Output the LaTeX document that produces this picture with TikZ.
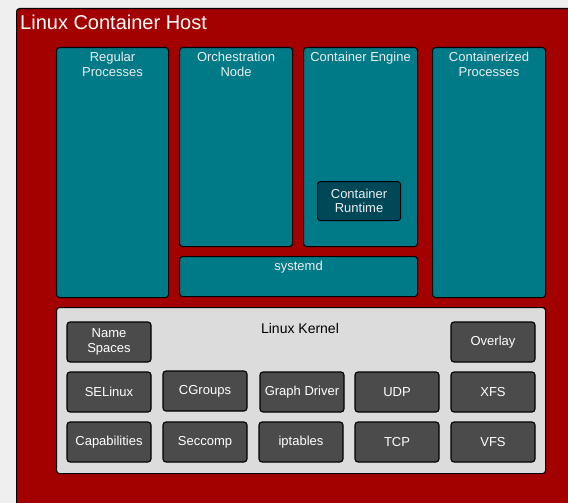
\documentclass[tikz,border=0pt]{standalone}
\usepackage{fontspec}
\setmainfont{Liberation Sans}
\definecolor{bgc}{HTML}{EFEFEF}
\definecolor{hostred}{HTML}{A30000}
\definecolor{tealc}{HTML}{007A87}
\definecolor{darkteal}{HTML}{004858}
\definecolor{grayc}{HTML}{4B4B4B}
\definecolor{kernelc}{HTML}{DCDCDC}
\definecolor{lighttext}{HTML}{EEEEEE}
\tikzset{
  base/.style={draw=black, line width=1.1pt, rounded corners=3pt, inner sep=0pt},
  hostbox/.style={base, fill=hostred},
  tealbox/.style={base, fill=tealc},
  rtbox/.style={base, fill=darkteal, text=lighttext, align=center, font=\fontsize{13}{15}\selectfont},
  kernbox/.style={base, fill=kernelc},
  graybox/.style={base, fill=grayc, text=white, align=center, font=\fontsize{13}{15.5}\selectfont, minimum width=84pt, minimum height=40pt},
  toplbl/.style={anchor=north, align=center, text=lighttext, font=\fontsize{13}{15}\selectfont, inner sep=0pt, yshift=-4.5pt},
}
\begin{document}
\begin{tikzpicture}[x=1pt,y=-1pt]
\useasboundingbox (0,0) rectangle (568,503);
\fill[bgc] (0,0) rectangle (568,503);
\clip (0,0) rectangle (568,503);
\node[hostbox, anchor=north west, minimum width=580pt, minimum height=520pt] (host) at (16,8) {};
\node[anchor=west, text=white, font=\fontsize{20}{24}\selectfont, inner sep=0pt] (title) at (20,22) {Linux Container Host};
% upper boxes
\node[tealbox, anchor=north west, minimum width=112pt, minimum height=250pt, label={[toplbl]north:Regular\\Processes}] (reg) at (56,47) {};
\node[tealbox, anchor=north west, minimum width=113pt, minimum height=199pt, label={[toplbl]north:Orchestration\\Node}] (orch) at (179,47) {};
\node[tealbox, anchor=north west, minimum width=114pt, minimum height=199pt, label={[toplbl]north:Container Engine}] (eng) at (303,47) {};
\node[tealbox, anchor=north west, minimum width=113pt, minimum height=250pt, label={[toplbl]north:Containerized\\Processes}] (cproc) at (432,47) {};
\node[rtbox, anchor=north west, minimum width=83pt, minimum height=39pt] (rt) at (317,181) {Container\\[-1pt]Runtime};
\node[tealbox, anchor=north west, minimum width=238pt, minimum height=40pt, label={[toplbl]north:systemd}] (sysd) at (179,256) {};
% kernel
\node[kernbox, anchor=north west, minimum width=489pt, minimum height=166pt] (kern) at (56,307) {};
\node[text=black, font=\fontsize{14}{16}\selectfont, inner sep=0pt] (kt) at (300,328) {Linux Kernel};
\node[graybox] (ns) at (109,342) {Name\\Spaces};
\node[graybox] (ov) at (493,342) {Overlay};
\node[graybox] (se) at (109,392) {SELinux};
\node[graybox] (cg) at (205,391) {CGroups};
\node[graybox] (gd) at (302,392) {Graph Driver};
\node[graybox] (udp) at (397,392) {UDP};
\node[graybox] (xfs) at (493,392) {XFS};
\node[graybox] (cap) at (109,442) {Capabilities};
\node[graybox] (sec) at (205,442) {Seccomp};
\node[graybox] (ipt) at (301,442) {iptables};
\node[graybox] (tcp) at (397,442) {TCP};
\node[graybox] (vfs) at (493,442) {VFS};
\end{tikzpicture}
\end{document}
